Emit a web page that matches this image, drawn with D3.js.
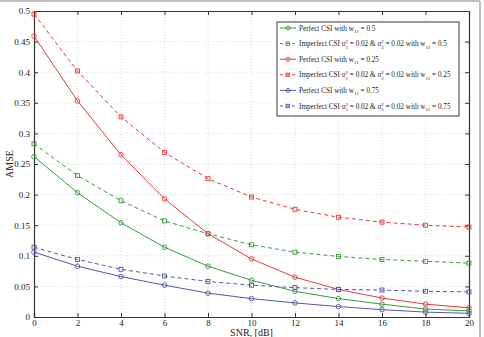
<!DOCTYPE html>
<html><head><meta charset="utf-8">
<script src="https://cdn.jsdelivr.net/npm/d3@7"></script>
<style>body{margin:0;background:#fff}svg{display:block}text{font-family:"Liberation Serif","DejaVu Serif",serif}</style>
</head><body>
<script>
const snr = [0,2,4,6,8,10,12,14,16,18,20];
const perfect05   = [0.262,0.203,0.154,0.114,0.083,0.060,0.042,0.030,0.021,0.013,0.010];
const imperfect05 = [0.283,0.231,0.190,0.157,0.136,0.118,0.106,0.099,0.094,0.091,0.088];
const perfect025  = [0.459,0.353,0.265,0.193,0.136,0.095,0.065,0.045,0.031,0.021,0.015];
const imperfect025= [0.495,0.402,0.327,0.269,0.226,0.196,0.176,0.163,0.155,0.150,0.147];
const perfect075  = [0.106,0.083,0.066,0.052,0.039,0.030,0.023,0.017,0.012,0.008,0.006];
const imperfect075= [0.114,0.094,0.078,0.067,0.058,0.052,0.048,0.045,0.044,0.042,0.041];
const xTicks = [0,2,4,6,8,10,12,14,16,18,20];
const yTicks = [0,0.05,0.1,0.15,0.2,0.25,0.3,0.35,0.4,0.45,0.5];
const yTickLabels = ["0","0.05","0.1","0.15","0.2","0.25","0.3","0.35","0.4","0.45","0.5"];
const series = [
  {w:"0.5", vals:perfect05, color:"#3a9a3a", dash:false},
  {w:"0.5", vals:imperfect05, color:"#3a9a3a", dash:true},
  {w:"0.25", vals:perfect025, color:"#e8383d", dash:false},
  {w:"0.25", vals:imperfect025, color:"#e8383d", dash:true},
  {w:"0.75", vals:perfect075, color:"#5656a8", dash:false},
  {w:"0.75", vals:imperfect075, color:"#5656a8", dash:true}
];

const W=484,H=337;
const svg=d3.select("body").append("svg").attr("width",W).attr("height",H);
svg.append("line").attr("x1",0).attr("x2",480).attr("y1",1).attr("y2",1).attr("stroke","#aaa").attr("stroke-width",1.5);
svg.append("line").attr("x1",480).attr("x2",480).attr("y1",1).attr("y2",H).attr("stroke","#aaa").attr("stroke-width",1.5);

const L=34,R=469,T=11,B=317;
const x=d3.scaleLinear().domain([0,20]).range([L,R]);
const y=d3.scaleLinear().domain([0,0.5]).range([B,T]);

const g=svg.append("g");
g.selectAll(".gx").data(xTicks.slice(1,-1)).enter().append("line")
  .attr("x1",d=>x(d)).attr("x2",d=>x(d)).attr("y1",T).attr("y2",B)
  .attr("stroke","#c8c8c8").attr("stroke-width",0.7).attr("stroke-dasharray","1,2");
g.selectAll(".gy").data(yTicks.slice(1,-1)).enter().append("line")
  .attr("x1",L).attr("x2",R).attr("y1",d=>y(d)).attr("y2",d=>y(d))
  .attr("stroke","#c8c8c8").attr("stroke-width",0.7).attr("stroke-dasharray","1,2");

const ax=d3.axisBottom(x).tickValues(xTicks).tickSize(-4).tickPadding(3).tickFormat(d3.format("d"));
const ay=d3.axisLeft(y).tickValues(yTicks).tickSize(-4).tickPadding(4).tickFormat((d,i)=>yTickLabels[i]);
const axT=d3.axisTop(x).tickValues(xTicks).tickSize(-4).tickFormat("");
const ayR=d3.axisRight(y).tickValues(yTicks).tickSize(-4).tickFormat("");
function style(sel){sel.selectAll("path").attr("stroke","#333").attr("stroke-width",1.2);sel.selectAll("line").attr("stroke","#333");sel.selectAll("text").attr("font-size","9px").attr("fill","#222").attr("font-family","Liberation Serif, serif");}
svg.append("g").attr("transform",`translate(0,${B})`).call(ax).call(style);
svg.append("g").attr("transform",`translate(${L},0)`).call(ay).call(style);
svg.append("g").attr("transform",`translate(0,${T})`).call(axT).call(style);
svg.append("g").attr("transform",`translate(${R},0)`).call(ayR).call(style);

const line=d3.line().x((d,i)=>x(snr[i])).y(d=>y(d));
series.forEach(s=>{
  svg.append("path").datum(s.vals).attr("d",line).attr("fill","none").attr("stroke",s.color)
    .attr("stroke-width",1).attr("stroke-dasharray",s.dash?"4,3":null);
  const m=svg.append("g");
  s.vals.forEach((v,i)=>{
    if(s.dash) m.append("rect").attr("x",x(snr[i])-2).attr("y",y(v)-2).attr("width",4).attr("height",4).attr("fill","none").attr("stroke",s.color).attr("stroke-width",0.9);
    else m.append("circle").attr("cx",x(snr[i])).attr("cy",y(v)).attr("r",2.3).attr("fill","none").attr("stroke",s.color).attr("stroke-width",0.9);
  });
});

svg.append("text").attr("x",(L+R)/2).attr("y",336).attr("text-anchor","middle").attr("font-size","10px").attr("fill","#222").text("SNR, [dB]");
svg.append("text").attr("transform",`translate(13,${(T+B)/2}) rotate(-90)`).attr("text-anchor","middle").attr("font-size","10px").attr("fill","#222").text("AMSE");

const lg=svg.append("g");
lg.append("rect").attr("x",277).attr("y",22).attr("width",182).attr("height",94).attr("fill","#fff").attr("stroke","#222").attr("stroke-width",0.9);
const fs=7.2, ss=5;
series.forEach((s,i)=>{
  const yy=28+i*15.6;
  lg.append("line").attr("x1",280).attr("x2",296).attr("y1",yy).attr("y2",yy).attr("stroke",s.color).attr("stroke-width",1).attr("stroke-dasharray",s.dash?"3,3":null);
  if(s.dash) lg.append("rect").attr("x",286).attr("y",yy-1.7).attr("width",3.4).attr("height",3.4).attr("fill","none").attr("stroke",s.color).attr("stroke-width",0.9);
  else lg.append("circle").attr("cx",288).attr("cy",yy).attr("r",2).attr("fill","none").attr("stroke",s.color).attr("stroke-width",0.9);
  const t=lg.append("text").attr("x",299).attr("y",yy+2.5).attr("font-size",fs+"px").attr("fill","#222");
  if(!s.dash){
    t.append("tspan").text("Perfect CSI with w");
    t.append("tspan").attr("dy",2.5).attr("font-size",ss+"px").text("11");
    t.append("tspan").attr("dy",-2.5).text(" = "+s.w);
  } else {
    t.append("tspan").text("Imperfect CSI \u03c3");
    t.append("tspan").attr("dy",-3).attr("font-size",ss+"px").text("2");
    t.append("tspan").attr("dx",-2.6).attr("dy",5.5).attr("font-size",ss+"px").text("1");
    t.append("tspan").attr("dy",-2.5).text(" = 0.02 & \u03c3");
    t.append("tspan").attr("dy",-3).attr("font-size",ss+"px").text("2");
    t.append("tspan").attr("dx",-2.6).attr("dy",5.5).attr("font-size",ss+"px").text("2");
    t.append("tspan").attr("dy",-2.5).text(" = 0.02 with w");
    t.append("tspan").attr("dy",2.5).attr("font-size",ss+"px").text("11");
    t.append("tspan").attr("dy",-2.5).text(" = "+s.w);
  }
});
</script>
</body></html>
